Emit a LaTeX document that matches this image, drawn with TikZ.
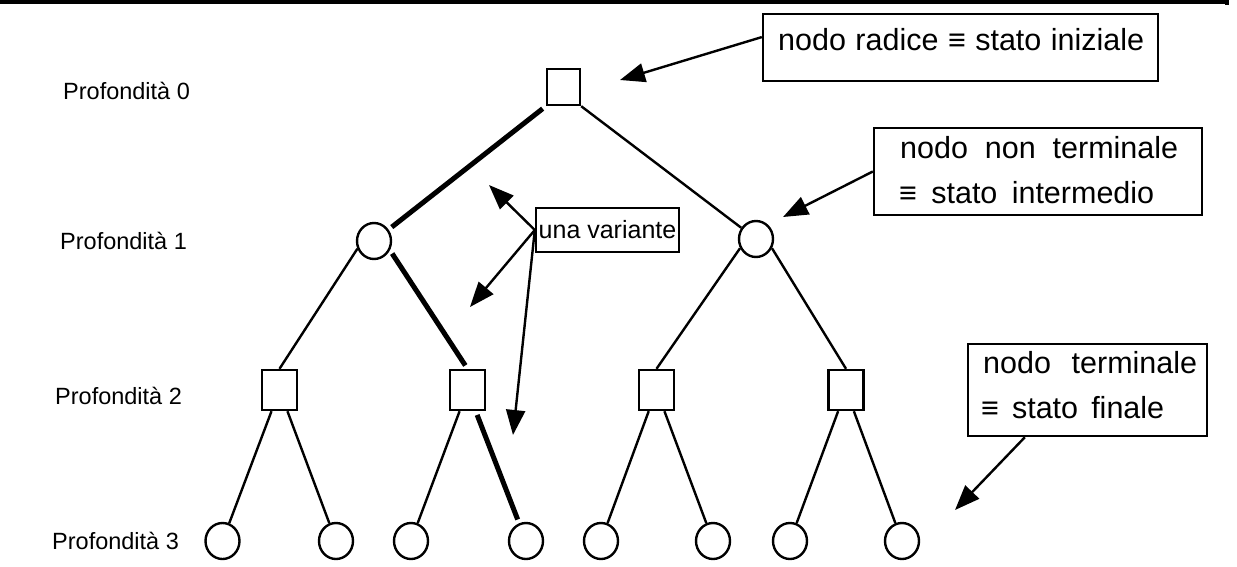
\documentclass[tikz,border=0pt]{standalone}
\usepackage{fontspec}
\setmainfont{Liberation Sans}
\usetikzlibrary{arrows.meta,shapes.geometric}
\begin{document}
\begin{tikzpicture}[x=1pt,y=-1pt,
  sq/.style={draw,line width=2.4pt,minimum width=35pt,minimum height=40pt,inner sep=0pt},
  rootsq/.style={draw,line width=2.4pt,minimum width=33pt,minimum height=36pt,inner sep=0pt},
  ci/.style={draw,ellipse,line width=2.4pt,minimum width=34pt,minimum height=36pt,inner sep=0pt},
  edge/.style={line width=2.4pt},
  boldedge/.style={line width=5pt,shorten <=4pt,shorten >=4pt},
  lbl/.style={anchor=base west,inner sep=0pt,font=\fontsize{23.5}{28}\selectfont},
  box/.style={draw,line width=2.4pt,inner sep=0pt},
  boxtext/.style={anchor=base west,inner sep=0pt,font=\fontsize{30.5}{36}\selectfont},
  smalltext/.style={inner sep=0pt,font=\fontsize{25}{30}\selectfont},
  arr/.style={line width=2.4pt,-{Triangle[length=25pt,width=19pt]}}
]
\useasboundingbox (0,0) rectangle (1237,566);
% top bar
\fill (0,0) rectangle (1226,3.5);
\fill (1225,0) rectangle (1229,5);

% depth labels
\node[lbl] (p0) at (63,99) {Profondità 0};
\node[lbl] (p1) at (60,249) {Profondità 1};
\node[lbl] (p2) at (55,404) {Profondità 2};
\node[lbl] (p3) at (52,549) {Profondità 3};

% tree nodes
\node[rootsq] (root) at (563.5,87) {};
\node[ci] (c1) at (374,241) {};
\node[ci] (c2) at (756,239) {};
\node[sq] (s1) at (279.5,390) {};
\node[sq] (s2) at (467.5,390) {};
\node[sq] (s3) at (656.5,390) {};
\node[sq] (s4) at (846,390) {};
\node[ci] (l1) at (222.5,541) {};
\node[ci] (l2) at (336,541) {};
\node[ci] (l3) at (411,541) {};
\node[ci] (l4) at (526,541) {};
\node[ci] (l5) at (601,541) {};
\node[ci] (l6) at (713,541) {};
\node[ci] (l7) at (790,541) {};
\node[ci] (l8) at (902,541) {};

% edges
\draw[boldedge] (root.south west) -- (c1);
\draw[edge] (root.south east) -- (c2);
\draw[edge] (c1.205) -- (s1.north);
\draw[boldedge] (c1.330) -- (s2.north);
\draw[edge] (c2.210) -- (s3.north);
\draw[edge] (c2.330) -- (s4.north);
\draw[edge] (s1) -- (l1);
\draw[edge] (s1) -- (l2);
\draw[edge] (s2) -- (l3);
\draw[boldedge] (s2) -- (l4);
\draw[edge] (s3) -- (l5);
\draw[edge] (s3) -- (l6);
\draw[edge] (s4) -- (l7);
\draw[edge] (s4) -- (l8);

% annotation boxes
\node[box,minimum width=395pt,minimum height=67pt] (b1) at (960.5,47.5) {};
\node[boxtext] (t1) at (778,50) {\makebox[366pt][s]{nodo radice ≡ stato iniziale}};

\node[box,minimum width=328pt,minimum height=87pt] (b2) at (1038,171.5) {};
\node[boxtext] (t2a) at (900,158) {\makebox[278pt][s]{nodo non terminale}};
\node[boxtext] (t2b) at (899,203) {\makebox[255pt][s]{≡ stato intermedio}};

\node[box,minimum width=239pt,minimum height=92pt] (b3) at (1087.5,390) {};
\node[boxtext] (t3a) at (983,373) {\makebox[214pt][s]{nodo terminale}};
\node[boxtext] (t3b) at (981,418) {\makebox[183pt][s]{≡ stato finale}};

\node[box,minimum width=143pt,minimum height=44pt] (uv) at (607.5,230) {};
\node[smalltext] (uvt) at (607.5,230) {una variante};

% arrow tips
\coordinate (a1) at (620,80);
\coordinate (a2) at (783,217);
\coordinate (a3) at (955,510);
\coordinate (a4) at (489,185);
\coordinate (a5) at (470,307);
\coordinate (a6) at (513,435);

\draw[arr] (b1.177) -- (a1);
\draw[arr] (b2.west) -- (a2);
\draw[arr] (b3.217) -- (a3);
\draw[arr] (uv.west) -- (a4);
\draw[arr] (uv.west) -- (a5);
\draw[arr] (uv.west) -- (a6);
\end{tikzpicture}
\end{document}
